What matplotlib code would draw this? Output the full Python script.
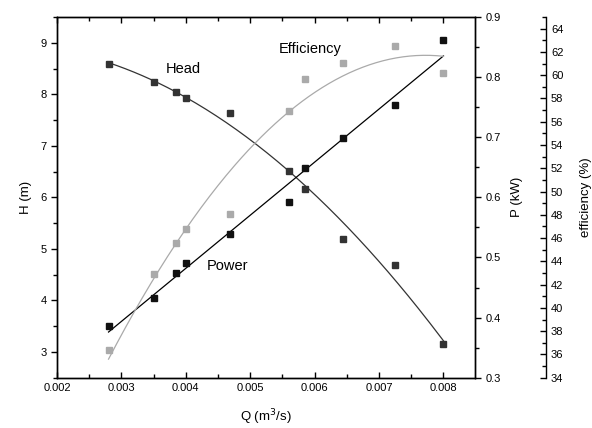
import numpy as np
import matplotlib
matplotlib.use("Agg")
import matplotlib.pyplot as plt
from matplotlib.ticker import MultipleLocator

plt.rcParams['font.family'] = ['Liberation Sans', 'DejaVu Sans']

Q = [0.0028, 0.0035, 0.00385, 0.0040, 0.00468, 0.0056, 0.00585, 0.00644, 0.00724, 0.0080]
head = [8.58, 8.24, 8.04, 7.93, 7.63, 6.51, 6.17, 5.19, 4.69, 3.16]
power = [0.386, 0.433, 0.475, 0.490, 0.539, 0.592, 0.648, 0.699, 0.753, 0.861]
efficiency = [36.35, 42.87, 45.54, 46.82, 48.1, 56.95, 59.64, 61.01, 62.47, 60.21]

fig = plt.figure(figsize=(5.92, 4.28), dpi=100)
ax = fig.add_axes([0.0963, 0.1175, 0.7061, 0.8428])
axp = ax.twinx()
axe = ax.twinx()
axe.spines['right'].set_position(('axes', 1.17))

Qa = np.array(Q)
qq = np.linspace(Qa.min(), Qa.max(), 200)

# Head
ch = np.polyfit(Qa, head, 2)
ax.plot(qq, np.polyval(ch, qq), color='#333333', lw=0.9)
ax.plot(Q, head, 's', color='#333333', ms=4.8, ls='none')

# Power
cp = np.polyfit(Qa, power, 1)
axp.plot(qq, np.polyval(cp, qq), color='#000000', lw=0.9)
axp.plot(Q, power, 's', color='#111111', ms=4.8, ls='none')

# Efficiency
ce = np.polyfit(Qa, efficiency, 2)
axe.plot(qq, np.polyval(ce, qq), color='#aaaaaa', lw=0.9)
axe.plot(Q, efficiency, 's', color='#aaaaaa', ms=4.8, ls='none')

ax.set_xlim(0.002, 0.00849)
ax.set_ylim(2.5, 9.5)
axp.set_ylim(0.3, 0.9)
axe.set_ylim(34, 65)

ax.xaxis.set_major_locator(MultipleLocator(0.001))
ax.xaxis.set_minor_locator(MultipleLocator(0.0005))
ax.yaxis.set_major_locator(MultipleLocator(1))
ax.yaxis.set_minor_locator(MultipleLocator(0.5))
axp.yaxis.set_major_locator(MultipleLocator(0.1))
axp.yaxis.set_minor_locator(MultipleLocator(0.05))
axe.yaxis.set_major_locator(MultipleLocator(2))
axe.yaxis.set_minor_locator(MultipleLocator(1))

fs = 8
ax.tick_params(axis='x', which='both', direction='in', top=True, labelsize=fs, width=1)
ax.tick_params(axis='x', which='major', length=4)
ax.tick_params(axis='x', which='minor', length=3)
ax.tick_params(axis='y', which='both', direction='out', labelsize=fs, width=1)
ax.tick_params(axis='y', which='major', length=4)
ax.tick_params(axis='y', which='minor', length=3)
axp.tick_params(axis='y', which='both', direction='out', labelsize=fs, width=1)
axp.tick_params(axis='y', which='major', length=4)
axp.tick_params(axis='y', which='minor', length=3)
axe.tick_params(axis='y', which='both', direction='in', labelsize=fs, width=1)
axe.tick_params(axis='y', which='major', length=4)
axe.tick_params(axis='y', which='minor', length=3)

ax.xaxis.set_major_formatter(matplotlib.ticker.FuncFormatter(lambda v, p: f"{v:.3f}"))
axp.yaxis.set_major_formatter(matplotlib.ticker.FuncFormatter(lambda v, p: f"{v:.1f}"))

for a in (ax, axp, axe):
    for s in a.spines.values():
        s.set_linewidth(1.0)
axe.spines['left'].set_visible(False)
axe.spines['top'].set_visible(False)
axe.spines['bottom'].set_visible(False)

ax.set_xlabel('Q (m$^3$/s)', fontsize=9.5, labelpad=11)
ax.set_ylabel('H (m)', fontsize=9.5, labelpad=6)
axp.set_ylabel('P (kW)', fontsize=9.5, labelpad=7)
axe.set_ylabel('efficiency (%)', fontsize=9.5, labelpad=12)

ax.text(0.00396, 8.49, 'Head', fontsize=10.5, ha='center', va='center')
ax.text(0.00593, 8.87, 'Efficiency', fontsize=10.5, ha='center', va='center')
ax.text(0.00465, 4.66, 'Power', fontsize=10.5, ha='center', va='center')

fig.savefig('out.png', dpi=100)
